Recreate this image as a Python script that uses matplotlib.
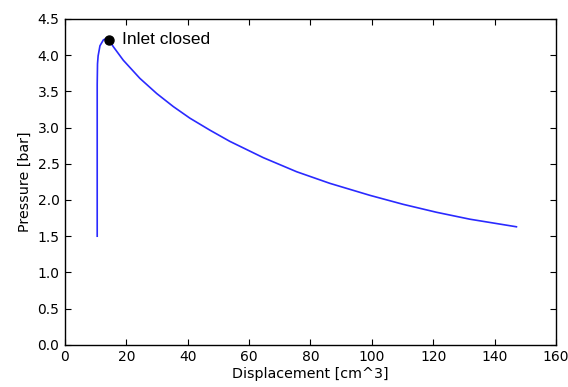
import matplotlib
matplotlib.use("Agg")
import matplotlib.pyplot as plt

# Pressure trace
displacement = [10.5, 10.5, 10.5, 10.6, 10.8, 11.4, 12.5, 13.4, 14.4,
                15.7, 19.0, 24.4, 29.9, 35.3, 40.7, 47.2, 53.7, 64.6,
                75.5, 86.3, 99.3, 110.2, 121.1, 131.9, 147.1]
pressure = [1.50, 2.50, 3.60, 3.88, 3.99, 4.13, 4.21, 4.23, 4.21,
            4.12, 3.93, 3.68, 3.47, 3.29, 3.13, 2.965, 2.81, 2.585,
            2.39, 2.23, 2.065, 1.94, 1.83, 1.735, 1.63]

# small stray segment at the left edge
stray_x = [0.0, 0.0]
stray_p = [0.17, 0.23]

inlet_x = 14.4
inlet_p = 4.21
inlet_label = "Inlet closed"

xticks = [0, 20, 40, 60, 80, 100, 120, 140, 160]
yticks = [0.0, 0.5, 1.0, 1.5, 2.0, 2.5, 3.0, 3.5, 4.0, 4.5]

fig = plt.figure(figsize=(5.68, 3.87), dpi=100)
ax = fig.add_axes([0.1144, 0.109, 0.8645, 0.842])

ax.plot(displacement, pressure, color="#2a2aff", lw=1.2)
ax.plot(stray_x, stray_p, color="#2a2aff", lw=1.2)
ax.plot([inlet_x], [inlet_p], "o", color="black", ms=6.5, zorder=5)
ax.text(inlet_x + 4.3, inlet_p, inlet_label, fontsize=12.5,
        family=["Liberation Sans", "DejaVu Sans"], va="center", ha="left")

ax.set_xlim(0, 160)
ax.set_ylim(0, 4.5)
ax.set_xticks(xticks)
ax.set_yticks(yticks)
ax.set_xticklabels([str(v) for v in xticks])
ax.set_yticklabels([f"{v:.1f}" for v in yticks])
ax.tick_params(direction="in", top=True, right=True, length=4, width=0.8,
               labelsize=10, colors="black", pad=4)
for s in ax.spines.values():
    s.set_linewidth(1.0)
    s.set_color("black")

ax.set_xlabel("Displacement [cm^3]", fontsize=10.3, labelpad=2)
ax.set_ylabel("Pressure [bar]", fontsize=10.3, labelpad=4)

fig.savefig("out.png", dpi=100)
